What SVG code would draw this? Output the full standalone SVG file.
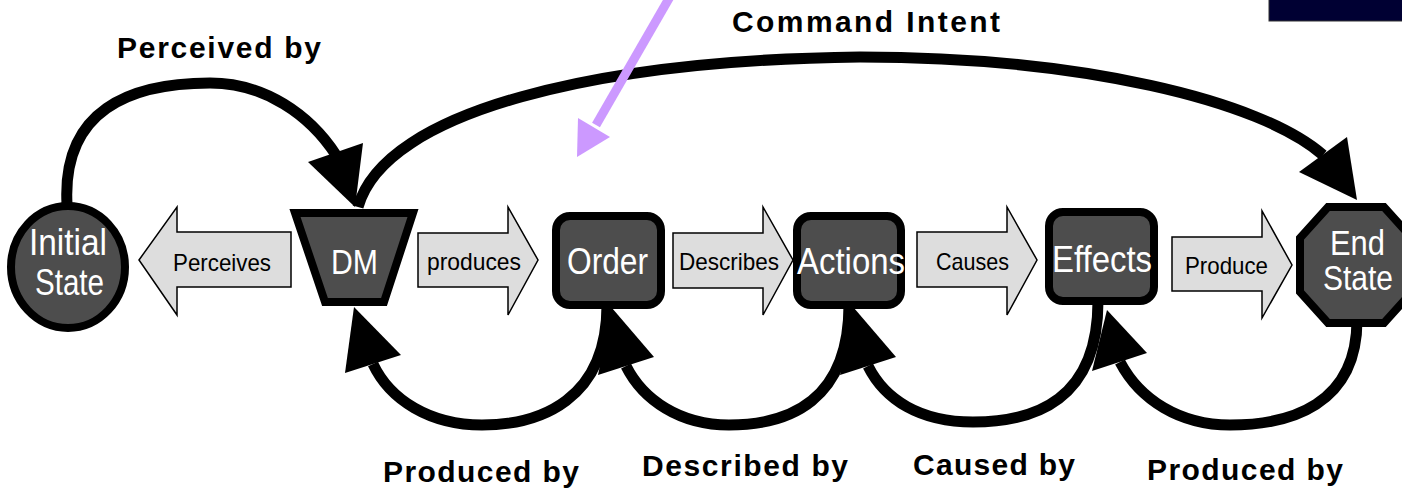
<svg xmlns="http://www.w3.org/2000/svg" width="1402" height="490" viewBox="0 0 1402 490">
<style>
.bg{fill:#ffffff}
.arc{fill:none;stroke:#000;stroke-width:11;stroke-linecap:butt}
.head{fill:#000}
.node{fill:#4d4d4d;stroke:#000;stroke-width:8;stroke-linejoin:miter}
.nlabel{font-family:"Liberation Sans",Arial,sans-serif;fill:#fff;font-size:37px}
.barrow{fill:#dddddd;stroke:#000;stroke-width:1.5;stroke-linejoin:miter}
.blabel{font-family:"Liberation Sans",Arial,sans-serif;fill:#000;font-size:24px}
.elabel{font-family:"Liberation Sans",Arial,sans-serif;fill:#000;font-size:30px;font-weight:bold}
</style>
<rect class="bg" x="0" y="0" width="1402" height="490"/>
<rect x="1269" y="-2" width="140" height="23" fill="#000033" stroke="#333" stroke-width="1"/>

<g id="connectors">
  <path class="arc" d="M 67 204 C 62 110, 130 83, 210 83 C 265 83, 310 115, 336 155"/>
  <polygon class="head" points="308,162 363,143 355,207"/>
  <path class="arc" d="M 358 207 C 385 110, 600 60, 860 57 C 1080 57, 1260 100, 1323 155"/>
  <polygon class="head" points="1299,172 1347,137 1357,200"/>
  <path class="arc" d="M 607 305 C 607 400, 540 425, 482 425 C 430 425, 390 400, 373 364"/>
  <polygon class="head" points="345,373 401,355 354,307"/>
  <path class="arc" d="M 849 305 C 849 400, 790 425, 729 425 C 680 425, 643 400, 626 366"/>
  <polygon class="head" points="598,375 654,357 612,308"/>
  <path class="arc" d="M 1098 301 C 1098 400, 1035 422, 973 422 C 920 422, 885 400, 868 366"/>
  <polygon class="head" points="840,375 896,357 854,308"/>
  <path class="arc" d="M 1357 320 C 1357 405, 1290 425, 1230 425 C 1180 425, 1140 400, 1120 362"/>
  <polygon class="head" points="1092,371 1147,353 1107,310"/>
  <line x1="671" y1="-5" x2="596" y2="125" stroke="#cc99ff" stroke-width="9"/>
  <polygon points="578,118 610,137 577,157" fill="#cc99ff"/>
</g>

<g id="edge-labels">
  <text class="elabel" x="117" y="58" textLength="204">Perceived by</text>
  <text class="elabel" x="732" y="32" textLength="268">Command Intent</text>
  <text class="elabel" x="383" y="482" textLength="196">Produced by</text>
  <text class="elabel" x="642" y="476" textLength="206">Described by</text>
  <text class="elabel" x="913" y="475" textLength="162">Caused by</text>
  <text class="elabel" x="1147" y="480" textLength="196">Produced by</text>
</g>

<g id="arrow-perceives">
  <polygon class="barrow" points="139,260 177,207 177,232 291,232 291,287 177,287 177,315"/>
  <text class="blabel" x="173" y="271" textLength="98" lengthAdjust="spacingAndGlyphs">Perceives</text>
</g>
<g id="arrow-produces">
  <polygon class="barrow" points="418,233 508,233 508,207 538,260 508,315 508,287 418,287"/>
  <text class="blabel" x="427" y="270" textLength="94" lengthAdjust="spacingAndGlyphs">produces</text>
</g>
<g id="arrow-describes">
  <polygon class="barrow" points="673,233 763,233 763,207 793,260 763,315 763,288 673,288"/>
  <text class="blabel" x="679" y="270" textLength="100" lengthAdjust="spacingAndGlyphs">Describes</text>
</g>
<g id="arrow-causes">
  <polygon class="barrow" points="917,232 1007,232 1007,207 1037,260 1007,315 1007,287 917,287"/>
  <text class="blabel" x="936" y="270" textLength="73" lengthAdjust="spacingAndGlyphs">Causes</text>
</g>
<g id="arrow-produce">
  <polygon class="barrow" points="1172,237 1262,237 1262,211 1292,265 1262,318 1262,291 1172,291"/>
  <text class="blabel" x="1185" y="274" textLength="83" lengthAdjust="spacingAndGlyphs">Produce</text>
</g>

<g id="node-initial-state">
  <ellipse class="node" cx="68" cy="267" rx="57" ry="61"/>
  <text class="nlabel" x="29" y="255" textLength="78" lengthAdjust="spacingAndGlyphs">Initial</text>
  <text class="nlabel" x="35" y="295" textLength="69" lengthAdjust="spacingAndGlyphs">State</text>
</g>
<g id="node-dm">
  <polygon class="node" points="295,213 413,213 384,302 325,302"/>
  <text class="nlabel" x="331" y="274" textLength="47" lengthAdjust="spacingAndGlyphs" style="font-size:35px">DM</text>
</g>
<g id="node-order">
  <rect class="node" x="556" y="216" width="105" height="89" rx="14"/>
  <text class="nlabel" x="567" y="274" textLength="81" lengthAdjust="spacingAndGlyphs">Order</text>
</g>
<g id="node-actions">
  <rect class="node" x="797" y="216" width="104" height="89" rx="14"/>
  <text class="nlabel" x="797" y="274" textLength="108" lengthAdjust="spacingAndGlyphs">Actions</text>
</g>
<g id="node-effects">
  <rect class="node" x="1049" y="212" width="105" height="89" rx="14"/>
  <text class="nlabel" x="1052" y="272" textLength="100" lengthAdjust="spacingAndGlyphs">Effects</text>
</g>
<g id="node-end-state">
  <polygon class="node" points="1328,207 1384,207 1412,238 1412,292 1384,323 1328,323 1300,292 1300,238"/>
  <text class="nlabel" x="1330" y="255" textLength="55" lengthAdjust="spacingAndGlyphs" style="font-size:35px">End</text>
  <text class="nlabel" x="1323" y="290" textLength="70" lengthAdjust="spacingAndGlyphs" style="font-size:35px">State</text>
</g>
</svg>
